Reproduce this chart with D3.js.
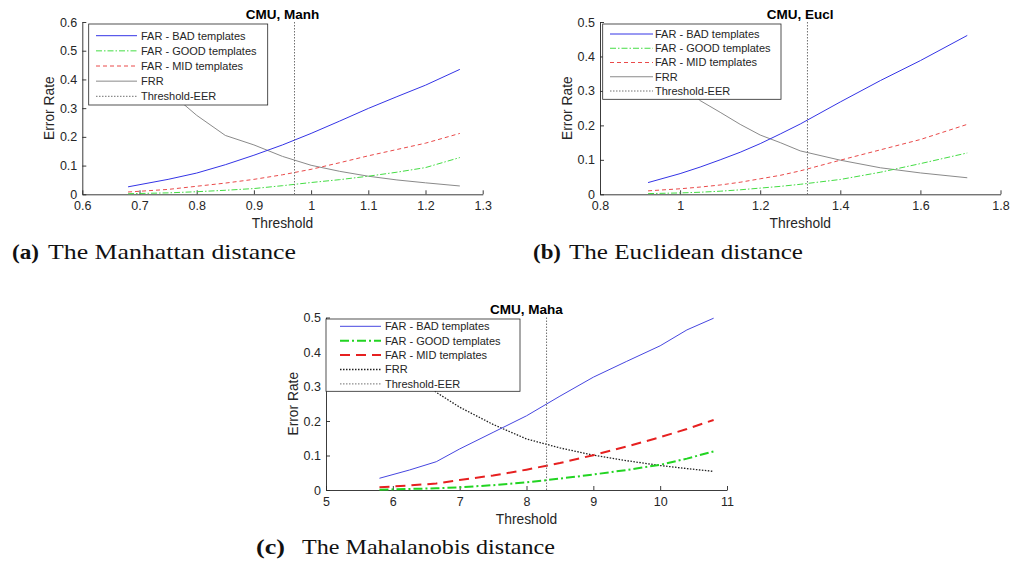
<!DOCTYPE html>
<html>
<head>
<meta charset="utf-8">
<script src="https://cdn.jsdelivr.net/npm/d3@7"></script>
<style>
    body { margin: 0; background: #fff; }
    svg { display: block; }
</style>
</head>
<body>
<svg id="chart" width="1024" height="563"></svg>
<script>
const legendNames = ['FAR - BAD templates', 'FAR - GOOD templates', 'FAR - MID templates', 'FRR', 'Threshold-EER'];

// (a) Manhattan
const manhTitle = 'CMU, Manh';
const manhThreshold = [0.68, 0.75, 0.8, 0.85, 0.9, 0.95, 1.0, 1.05, 1.1, 1.15, 1.2, 1.26];
const manhBad = [0.026, 0.052, 0.074, 0.103, 0.136, 0.172, 0.212, 0.255, 0.299, 0.34, 0.38, 0.435];
const manhGood = [0.002, 0.005, 0.009, 0.014, 0.02, 0.03, 0.041, 0.051, 0.063, 0.077, 0.093, 0.128];
const manhMid = [0.008, 0.017, 0.028, 0.039, 0.052, 0.068, 0.087, 0.11, 0.134, 0.156, 0.178, 0.212];
const manhFrr = [0.52, 0.36, 0.275, 0.205, 0.172, 0.132, 0.101, 0.08, 0.063, 0.05, 0.04, 0.029];
const manhEer = 0.971;
const manhXTicks = [0.6, 0.7, 0.8, 0.9, 1, 1.1, 1.2, 1.3];
const manhYTicks = [0, 0.1, 0.2, 0.3, 0.4, 0.5, 0.6];

// (b) Euclidean
const euclTitle = 'CMU, Eucl';
const euclThreshold = [0.92, 1.0, 1.05, 1.1, 1.15, 1.2, 1.25, 1.3, 1.4, 1.5, 1.6, 1.717];
const euclBad = [0.034, 0.06, 0.079, 0.1, 0.122, 0.147, 0.175, 0.204, 0.268, 0.33, 0.388, 0.461];
const euclGood = [0.002, 0.004, 0.006, 0.009, 0.013, 0.018, 0.023, 0.029, 0.043, 0.064, 0.089, 0.12];
const euclMid = [0.01, 0.016, 0.021, 0.027, 0.035, 0.045, 0.055, 0.068, 0.099, 0.129, 0.159, 0.203];
const euclFrr = [0.42, 0.33, 0.272, 0.238, 0.203, 0.172, 0.15, 0.126, 0.099, 0.077, 0.062, 0.048];
const euclEer = 1.318;
const euclXTicks = [0.8, 1, 1.2, 1.4, 1.6, 1.8];
const euclYTicks = [0, 0.1, 0.2, 0.3, 0.4, 0.5];

// (c) Mahalanobis
const mahaTitle = 'CMU, Maha';
const mahaThreshold = [5.8, 6.25, 6.65, 7.0, 7.5, 8.0, 8.5, 9.0, 9.5, 10.0, 10.4, 10.8];
const mahaBad = [0.034, 0.058, 0.082, 0.119, 0.167, 0.215, 0.272, 0.327, 0.373, 0.418, 0.464, 0.498];
const mahaGood = [0.001, 0.003, 0.005, 0.008, 0.014, 0.022, 0.033, 0.045, 0.058, 0.073, 0.091, 0.112];
const mahaMid = [0.008, 0.013, 0.019, 0.029, 0.042, 0.059, 0.078, 0.101, 0.126, 0.153, 0.177, 0.203];
const mahaFrr = [0.42, 0.35, 0.283, 0.24, 0.19, 0.148, 0.122, 0.101, 0.085, 0.071, 0.062, 0.054];
const mahaEer = 8.3;
const mahaXTicks = [5, 6, 7, 8, 9, 10, 11];
const mahaYTicks = [0, 0.1, 0.2, 0.3, 0.4, 0.5];

const captions = [
    {tag: '(a)', text: 'The Manhattan distance', x: 12, tagLen: 27, tx: 48, textLen: 248, y: 259},
    {tag: '(b)', text: 'The Euclidean distance', x: 533, tagLen: 28, tx: 569, textLen: 234, y: 259},
    {tag: '(c)', text: 'The Mahalanobis distance', x: 256, tagLen: 29, tx: 302, textLen: 253, y: 554}
];

const axisColor = '#262626';
const sans = '"Liberation Sans", Arial, Helvetica, sans-serif';

const thinStyles = [
    {stroke: '#3434e6', width: 1, dash: null},
    {stroke: '#44dd44', width: 1, dash: '6,2,1.5,2'},
    {stroke: '#ea4a4a', width: 1, dash: '4,3'},
    {stroke: '#8a8a8a', width: 1, dash: null},
    {stroke: '#707070', width: 1, dash: '1.5,1.5'}
];
const thickStyles = [
    {stroke: '#4646e0', width: 1, dash: null},
    {stroke: '#22d422', width: 2, dash: '9,3,2,3'},
    {stroke: '#e62020', width: 2, dash: '10,6'},
    {stroke: '#202020', width: 1.3, dash: '1.5,1.5'},
    {stroke: '#707070', width: 1, dash: '1.5,1.5'}
];

const panels = [
    {title: manhTitle, t: manhThreshold, series: [manhBad, manhGood, manhMid, manhFrr], eer: manhEer,
     xTicks: manhXTicks, yTicks: manhYTicks, left: 82.3, right: 482.7, top: 22, bottom: 194.3,
     legend: {x0: 88.7, y0: 24, x1: 267.7, y1: 105, row0: 35.7, step: 15.15, lx0: 96, lx1: 137, tx: 141},
     styles: thinStyles},
    {title: euclTitle, t: euclThreshold, series: [euclBad, euclGood, euclMid, euclFrr], eer: euclEer,
     xTicks: euclXTicks, yTicks: euclYTicks, left: 600, right: 1000.5, top: 22, bottom: 194.3,
     legend: {x0: 602.7, y0: 24, x1: 781, y1: 99.3, row0: 34, step: 14.25, lx0: 610, lx1: 653, tx: 655},
     styles: thinStyles},
    {title: mahaTitle, t: mahaThreshold, series: [mahaBad, mahaGood, mahaMid, mahaFrr], eer: mahaEer,
     xTicks: mahaXTicks, yTicks: mahaYTicks, left: 326, right: 727, top: 317.5, bottom: 490,
     legend: {x0: 326, y0: 319, x1: 520, y1: 391.3, row0: 326.3, step: 14.4, lx0: 340, lx1: 381, tx: 385},
     styles: thickStyles}
];

const svg = d3.select('#chart');
svg.append('rect').attr('width', 1024).attr('height', 563).attr('fill', '#fff');

function applyStyle(sel, st) {
    sel.attr('fill', 'none')
        .attr('stroke', st.stroke)
        .attr('stroke-width', st.width);
    if (st.dash) sel.attr('stroke-dasharray', st.dash);
}

function drawPanel(p) {
    let g = svg.append('g');
    let yMax = p.yTicks[p.yTicks.length - 1];
    let x = d3.scaleLinear().domain([p.xTicks[0], p.xTicks[p.xTicks.length - 1]]).range([p.left, p.right]);
    let y = d3.scaleLinear().domain([0, yMax]).range([p.bottom, p.top]);
    let fmt = d3.format('~g');

    let xAxis = g.append('g')
        .attr('transform', 'translate(0,' + p.bottom + ')')
        .call(d3.axisBottom(x).tickValues(p.xTicks).tickFormat(fmt)
            .tickSizeInner(-4).tickSizeOuter(0).tickPadding(7));
    let yAxis = g.append('g')
        .attr('transform', 'translate(' + p.left + ',0)')
        .call(d3.axisLeft(y).tickValues(p.yTicks).tickFormat(fmt)
            .tickSizeInner(-4).tickSizeOuter(0).tickPadding(5));
    [xAxis, yAxis].forEach(function(a) {
        a.attr('font-family', sans).attr('font-size', 12.5);
        a.select('.domain').attr('stroke', axisColor).attr('stroke-width', 0.9);
        a.selectAll('.tick line').attr('stroke', axisColor).attr('stroke-width', 0.9);
        a.selectAll('.tick text').attr('fill', axisColor);
    });

    let line = d3.line()
        .x(function(d) { return x(d[0]); })
        .y(function(d) { return y(d[1]); });

    // draw FRR first, then MID, GOOD, BAD on top
    [3, 2, 1, 0].forEach(function(i) {
        let pts = p.t.map(function(tv, k) { return [tv, p.series[i][k]]; });
        applyStyle(g.append('path').attr('d', line(pts)), p.styles[i]);
    });

    applyStyle(g.append('line')
        .attr('x1', x(p.eer)).attr('x2', x(p.eer))
        .attr('y1', y(yMax)).attr('y2', y(0)), p.styles[4]);

    // legend box
    let lg = p.legend;
    g.append('rect')
        .attr('x', lg.x0).attr('y', lg.y0)
        .attr('width', lg.x1 - lg.x0).attr('height', lg.y1 - lg.y0)
        .attr('fill', '#fff').attr('stroke', axisColor).attr('stroke-width', 0.8);
    legendNames.forEach(function(name, i) {
        let ry = lg.row0 + i * lg.step;
        applyStyle(g.append('line')
            .attr('x1', lg.lx0).attr('x2', lg.lx1)
            .attr('y1', ry).attr('y2', ry), p.styles[i]);
        g.append('text')
            .attr('x', lg.tx).attr('y', ry).attr('dy', '0.36em')
            .attr('font-family', sans).attr('font-size', 11)
            .attr('fill', axisColor)
            .text(name);
    });

    let cx = (p.left + p.right) / 2;
    g.append('text')
        .attr('x', cx).attr('y', p.top - 3.5)
        .attr('text-anchor', 'middle')
        .attr('font-family', sans).attr('font-size', 13.5).attr('font-weight', 'bold')
        .attr('fill', '#000')
        .text(p.title);
    g.append('text')
        .attr('x', cx).attr('y', p.bottom + 33.5)
        .attr('text-anchor', 'middle')
        .attr('font-family', sans).attr('font-size', 13.8)
        .attr('fill', axisColor)
        .text('Threshold');
    g.append('text')
        .attr('transform', 'translate(' + (p.left - 33) + ',' + ((p.top + p.bottom) / 2) + ') rotate(-90)')
        .attr('dy', '0.35em')
        .attr('text-anchor', 'middle')
        .attr('font-family', sans).attr('font-size', 13.8)
        .attr('fill', axisColor)
        .text('Error Rate');
}

panels.forEach(drawPanel);

captions.forEach(function(c) {
    svg.append('text')
        .attr('x', c.x).attr('y', c.y)
        .attr('font-family', '"Liberation Serif", "Times New Roman", serif')
        .attr('font-size', 22).attr('font-weight', 'bold')
        .attr('textLength', c.tagLen).attr('lengthAdjust', 'spacingAndGlyphs')
        .attr('fill', '#111')
        .text(c.tag);
    svg.append('text')
        .attr('x', c.tx).attr('y', c.y)
        .attr('font-family', '"Liberation Serif", "Times New Roman", serif')
        .attr('font-size', 22)
        .attr('textLength', c.textLen).attr('lengthAdjust', 'spacingAndGlyphs')
        .attr('fill', '#111')
        .text(c.text);
});
</script>
</body>
</html>
